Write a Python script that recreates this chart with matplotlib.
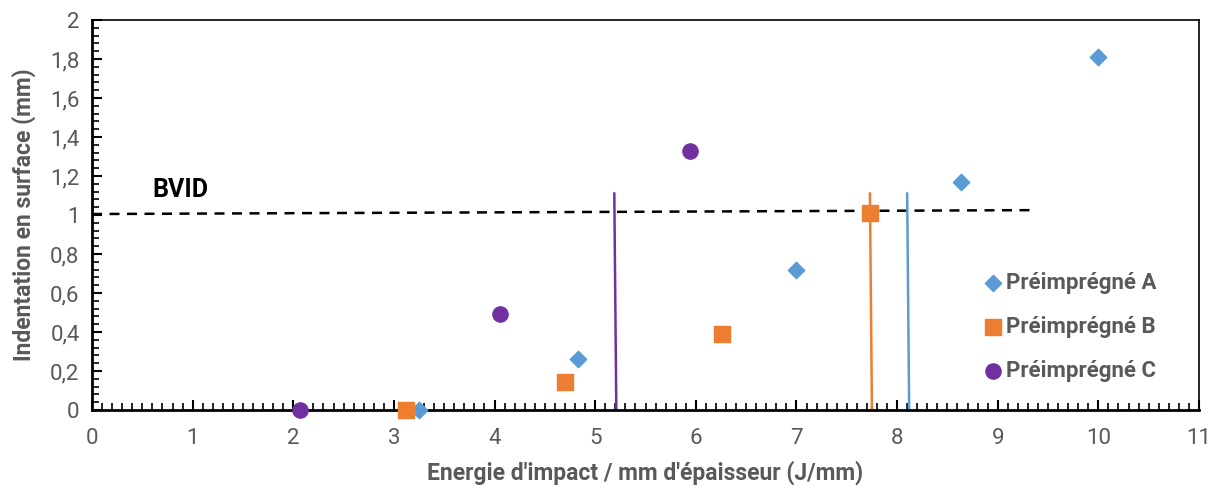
import matplotlib

matplotlib.use("Agg")
import matplotlib.pyplot as plt
from matplotlib.ticker import MultipleLocator, FuncFormatter

plt.rcParams["font.family"] = ["Roboto", "DejaVu Sans"]

# data
a_x = [3.25, 4.83, 7.0, 8.64, 10.0]
a_y = [0.0, 0.26, 0.72, 1.17, 1.81]
b_x = [3.12, 4.70, 6.26, 7.73]
b_y = [0.0, 0.145, 0.39, 1.01]
c_x = [2.07, 4.05, 5.94]
c_y = [0.0, 0.49, 1.33]

bvid_x = [0.0, 9.37]
bvid_y = [1.005, 1.025]
limit_c = ([5.19, 5.21], [1.11, 0.0])
limit_b = ([7.73, 7.75], [1.11, 0.0])
limit_a = ([8.10, 8.12], [1.11, 0.0])

blue = "#5B9BD5"
orange = "#ED7D31"
purple = "#7030A0"
grey = "#595959"

fig = plt.figure(figsize=(12.18, 4.86), dpi=100)
ax = fig.add_axes([92 / 1218, 76 / 486, 1107 / 1218, 390 / 486])

ax.plot(bvid_x, bvid_y, color="black", linestyle=(0, (4, 3)), linewidth=1.8, zorder=2)
ax.plot(*limit_c, color=purple, linewidth=1.8, zorder=2)
ax.plot(*limit_b, color=orange, linewidth=1.8, zorder=2)
ax.plot(*limit_a, color=blue, linewidth=1.8, zorder=2)

ax.scatter(a_x, a_y, marker="D", s=70, color=blue, label="Préimprégné A", zorder=3, clip_on=False)
ax.scatter(b_x, b_y, marker="s", s=120, color=orange, label="Préimprégné B", zorder=3, clip_on=False)
ax.scatter(c_x, c_y, marker="o", s=120, color=purple, label="Préimprégné C", zorder=3, clip_on=False)

ax.text(0.6, 1.128, "BVID", fontsize=18, fontweight="bold", color="black", va="center")

ax.set_xlim(0, 11)
ax.set_ylim(0, 2)
ax.xaxis.set_major_locator(MultipleLocator(1))
ax.xaxis.set_minor_locator(MultipleLocator(0.1))
ax.yaxis.set_major_locator(MultipleLocator(0.2))
ax.yaxis.set_minor_locator(MultipleLocator(0.04))
fmt = FuncFormatter(lambda v, p: f"{v:g}".replace(".", ","))
ax.xaxis.set_major_formatter(fmt)
ax.yaxis.set_major_formatter(fmt)

ax.tick_params(which="major", direction="in", length=7, width=1.5, labelsize=16,
               labelcolor=grey)
ax.tick_params(axis="x", which="major", pad=13)
ax.tick_params(axis="y", which="major", pad=9)
ax.tick_params(which="minor", direction="in", length=5, width=1.2)
for side in ["left", "bottom"]:
    ax.spines[side].set_linewidth(2)
for side in ["top", "right"]:
    ax.spines[side].set_linewidth(1.2)

ax.set_xlabel("Energie d'impact / mm d'épaisseur (J/mm)", fontsize=16.5, fontweight="bold",
              color=grey, labelpad=8)
ax.set_ylabel("Indentation en surface (mm)", fontsize=16.5, fontweight="bold", color=grey,
              labelpad=10)

leg = ax.legend(loc="lower right", bbox_to_anchor=(0.98, 0.02), frameon=False,
                prop={"size": 16, "weight": "bold"},
                handletextpad=0.0, labelspacing=1.0, handlelength=1.2)
for t in leg.get_texts():
    t.set_color(grey)

fig.savefig("out.png", dpi=100)
plt.close(fig)
